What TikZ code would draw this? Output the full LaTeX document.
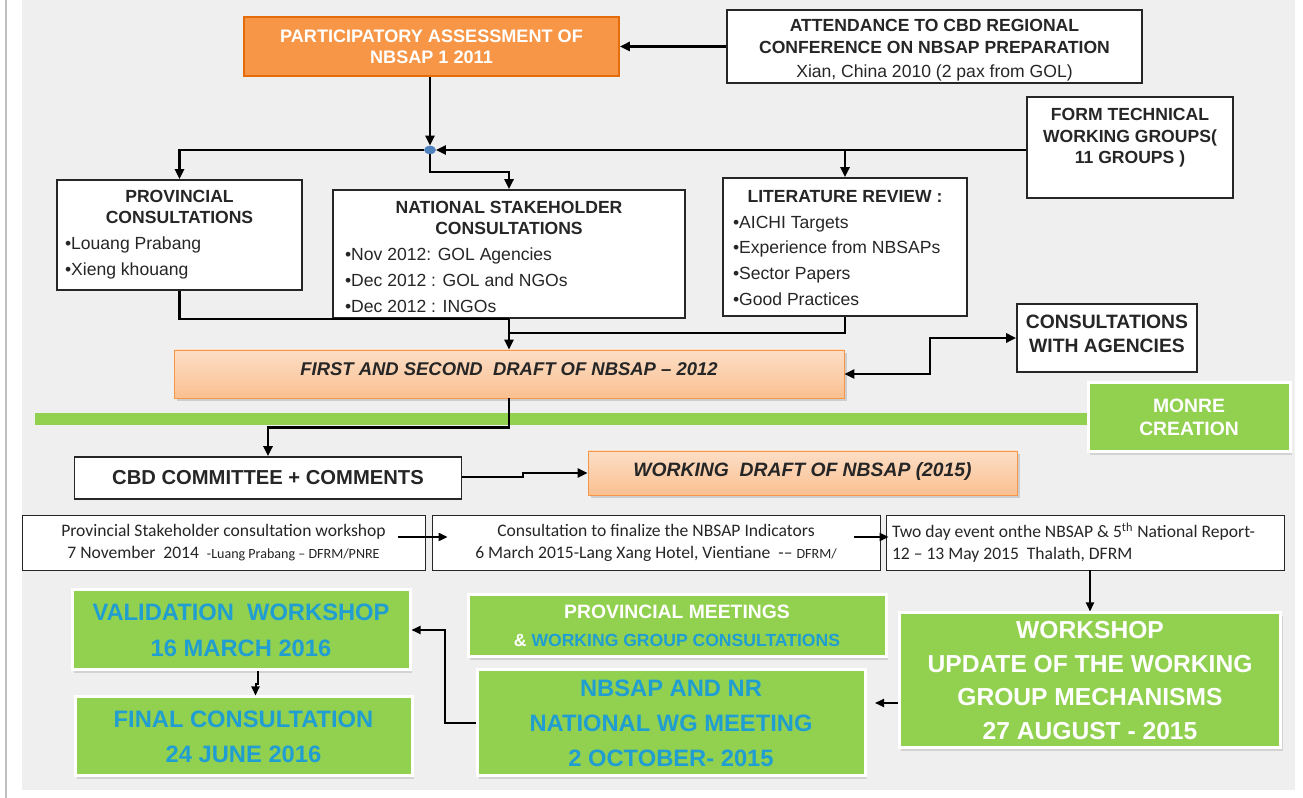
\documentclass[tikz,border=0pt]{standalone}
\usepackage{fontspec}
\setmainfont{Liberation Sans}
\newfontfamily\carlito{Carlito}
\usetikzlibrary{arrows.meta,shadows,shapes.geometric}

% Colours
\definecolor{r239g239b239}{rgb}{0.937255,0.937255,0.937255}%
\definecolor{r191g191b191}{rgb}{0.749020,0.749020,0.749020}%
\definecolor{r247g150b70}{rgb}{0.968627,0.588235,0.274510}%
\definecolor{r228g108b10}{rgb}{0.894118,0.423529,0.039216}%
\definecolor{r252g222b198}{rgb}{0.988235,0.870588,0.776471}%
\definecolor{r250g192b144}{rgb}{0.980392,0.752941,0.564706}%
\definecolor{r146g208b80}{rgb}{0.572549,0.815686,0.313725}%
\definecolor{r32g158b210}{rgb}{0.125490,0.619608,0.823529}%
\definecolor{r79g129b189}{rgb}{0.309804,0.505882,0.741176}%
\definecolor{r38g38b38}{rgb}{0.149020,0.149020,0.149020}%

\begin{document}
\begin{tikzpicture}[
    wbox/.style={draw=r38g38b38, fill=white, line width=0.032cm, inner sep=0pt, text=r38g38b38},
    obox/.style={draw=r228g108b10, fill=r247g150b70, line width=0.032cm, text=white, align=center,
      font=\bfseries\fontsize{10.3}{12}\selectfont},
    pbox/.style={draw=r247g150b70, top color=r252g222b198, bottom color=r250g192b144, line width=0.016cm,
      drop shadow={shadow xshift=0.05cm, shadow yshift=-0.06cm, opacity=0.3}, text=r38g38b38,
      font=\bfseries\itshape\fontsize{10.5}{12}\selectfont},
    gbox/.style={draw=white, fill=r146g208b80, line width=0.06cm, align=center,
      drop shadow={shadow xshift=0.04cm, shadow yshift=-0.06cm, opacity=0.25}},
    rbox/.style={draw=r38g38b38, fill=white, line width=0.016cm, inner sep=0.12cm, text=r38g38b38,
      font=\carlito\fontsize{10}{12.5}\selectfont},
    conn/.style={line width=0.05cm},
    arr/.style={line width=0.05cm, -{Triangle[length=0.2cm,width=0.18cm]}},
    arrs/.style={line width=0.05cm, {Triangle[length=0.2cm,width=0.18cm]}-{Triangle[length=0.2cm,width=0.18cm]}},
    thinarr/.style={line width=0.04cm, -{Triangle[length=0.18cm,width=0.16cm]}}
  ]
\useasboundingbox (0,0) rectangle (26.06,15.96);

% Filling background
\fill[r239g239b239] (0.44,0.16) rectangle (25.90,15.96);%
\draw[r191g191b191, line width=0.032cm] (0.12,0) -- (0.12,15.96);%

% Filling green bar
\fill[r146g208b80] (0.70,7.46) rectangle (21.80,7.70);%

% Drawing box participatory assessment
\node[obox, minimum width=7.50cm, minimum height=1.18cm] (assess) at (8.63,15.03)
  {PARTICIPATORY ASSESSMENT OF\\NBSAP 1 2011};

% Drawing box attendance
\node[wbox] (attend) at (18.69,15.03)
  {\parbox[c][1.46cm][t]{8.30cm}{\vspace*{5.5pt}\centering\fontsize{10}{12}\selectfont
   \textbf{ATTENDANCE TO CBD REGIONAL}\\\textbf{CONFERENCE ON NBSAP PREPARATION}\\[2pt]Xian, China 2010 (2 pax from GOL)}};

% Drawing box technical working groups
\node[wbox] (formtwg) at (22.60,13.01)
  {\parbox[c][2.02cm][t]{4.12cm}{\vspace*{6.5pt}\centering\bfseries\fontsize{10}{12.2}\selectfont
   FORM TECHNICAL\\WORKING GROUPS(\\11 GROUPS )}};

% Marking split point
\node[ellipse, fill=r79g129b189, draw=r79g129b189, inner sep=0pt, minimum width=0.22cm, minimum height=0.16cm] (dot) at (8.60,12.96) {};

% Drawing box provincial consultations
\node[wbox] (prov) at (3.59,11.26)
  {\parbox[c][2.20cm][t]{4.90cm}{\vspace*{6pt}{\centering\bfseries\fontsize{10}{12}\selectfont
   PROVINCIAL\\CONSULTATIONS\par}
   \fontsize{10}{14.7}\selectfont\leftskip=0.16cm
   \textbullet Louang Prabang\\\textbullet Xieng khouang}};

% Drawing box national stakeholder consultations
\node[wbox] (natl) at (10.18,10.88)
  {\parbox[c][2.56cm][t]{7.04cm}{\vspace*{6.4pt}{\centering\bfseries\fontsize{10}{12}\selectfont
   NATIONAL STAKEHOLDER\\CONSULTATIONS\par}
   \fontsize{10}{14.7}\selectfont\leftskip=0.24cm
   \textbullet Nov 2012: GOL Agencies\\\textbullet Dec 2012 : GOL and NGOs\\\textbullet Dec 2012 : INGOs}};

% Drawing box literature review
\node[wbox] (lit) at (16.90,11.02)
  {\parbox[c][2.76cm][t]{4.88cm}{\vspace*{7pt}{\centering\bfseries\fontsize{10}{12}\selectfont
   LITERATURE REVIEW :\par}
   \fontsize{10}{14.6}\selectfont\leftskip=0.20cm
   \textbullet AICHI Targets\\\textbullet Experience from NBSAPs\\\textbullet Sector Papers\\\textbullet Good Practices}};

% Drawing box first and second draft
\node[pbox, minimum width=13.40cm, minimum height=0.96cm] (draft1) at (10.18,8.48)
  {\raisebox{5.5pt}{FIRST AND SECOND\ \ DRAFT OF NBSAP – 2012}};

% Drawing box consultations with agencies
\node[wbox] (agency) at (22.14,9.20)
  {\parbox[c][1.36cm][t]{3.60cm}{\vspace*{6.5pt}\centering\bfseries\fontsize{11}{13.6}\selectfont
   CONSULTATIONS\\WITH AGENCIES}};

% Drawing box monre creation
\node[gbox, minimum width=4.04cm, minimum height=1.38cm, text=white,
  font=\bfseries\fontsize{11}{13}\selectfont] (monre) at (23.78,7.61) {MONRE\\CREATION};

% Drawing box cbd committee
\node[wbox, minimum width=7.74cm, minimum height=0.84cm,
  font=\bfseries\fontsize{11.5}{13}\selectfont] (cbd) at (5.36,6.40) {CBD COMMITTEE + COMMENTS};

% Drawing box working draft
\node[pbox, minimum width=8.58cm, minimum height=0.88cm,
  font=\bfseries\itshape\fontsize{11}{13}\selectfont] (draft2) at (16.05,6.50)
  {\raisebox{4pt}{WORKING\ \ DRAFT OF NBSAP (2015)}};

% Drawing row of events
\node[rbox, minimum width=8.06cm, minimum height=1.10cm] (rowA) at (4.47,5.11)
  {\raisebox{-3pt}{\parbox{7.82cm}{\centering Provincial Stakeholder consultation workshop\\7 November\ \ 2014\ \ {\fontsize{8}{9}\selectfont -Luang Prabang – DFRM/PNRE}}}};
\node[rbox, minimum width=8.96cm, minimum height=1.10cm] (rowB) at (13.12,5.11)
  {\raisebox{-3pt}{\parbox{8.72cm}{\centering Consultation to finalize the NBSAP Indicators\\6 March 2015-Lang Xang Hotel, Vientiane\ \ -– {\fontsize{8}{9}\selectfont DFRM/}}}};
\node[rbox, minimum width=7.96cm, minimum height=1.10cm] (rowC) at (21.70,5.11)
  {\raisebox{-3pt}{\parbox{7.72cm}{\raggedright Two day event onthe NBSAP \& 5\textsuperscript{th} National Report-\\12 – 13 May 2015\ \ Thalath, DFRM}}};

% Drawing green boxes
\node[gbox, minimum width=6.76cm, minimum height=1.60cm, text=r32g158b210,
  font=\bfseries\fontsize{13.5}{20.4}\selectfont] (valid) at (4.82,3.36) {VALIDATION\ \ WORKSHOP\\16 MARCH 2016};
\node[gbox, minimum width=6.74cm, minimum height=1.58cm, text=r32g158b210,
  font=\bfseries\fontsize{13.5}{20}\selectfont] (final) at (4.87,1.23) {FINAL CONSULTATION\\24 JUNE 2016};
\node[gbox, minimum width=8.36cm, minimum height=1.24cm, text=white,
  font=\bfseries\fontsize{11}{16}\selectfont] (provmeet) at (13.54,3.44)
  {PROVINCIAL MEETINGS\\{\fontsize{10}{16}\selectfont \& \textcolor{r32g158b210}{WORKING GROUP CONSULTATIONS}}};
\node[gbox, minimum width=7.76cm, minimum height=2.12cm, text=r32g158b210,
  font=\bfseries\fontsize{13.5}{20}\selectfont] (nbsapnr) at (13.42,1.50)
  {NBSAP AND NR\\NATIONAL WG MEETING\\2 OCTOBER- 2015};
\node[gbox, minimum width=7.52cm, minimum height=2.70cm, text=white,
  font=\bfseries\fontsize{14}{19.2}\selectfont] (wshop) at (21.80,2.35)
  {\raisebox{-4pt}{\parbox{7.4cm}{\centering WORKSHOP\\UPDATE OF THE WORKING\\GROUP MECHANISMS\\27 AUGUST - 2015}}};

% Drawing line attend assess
\draw[arr] (attend.west |- assess.east) -- (assess.east);%
% Drawing line assess dot
\draw[arr] (dot |- assess.south) -- (dot.north);%
% Drawing line formtwg dot
\draw[arr] (dot -| formtwg.west) -- (dot.east);%
\draw[arr] (dot -| lit.north) -- (lit.north);%
% Drawing line dot prov
\draw[arr] (dot.west) -| (prov.north);%
% Drawing line dot natl
\coordinate (nsplit) at (10.18,12.52);
\draw[arr] (dot.south) |- (nsplit) -- (natl.north);%

% Drawing lines into first draft
\coordinate (jprov) at (10.18,9.58);
\coordinate (jlit) at (10.18,9.30);
\draw[conn] (prov.south) |- (jprov);%
\draw[conn] (lit.south) |- (jlit);%
\draw[arr] (natl.south) -- (draft1.north);%

% Drawing line draft1 agency
\coordinate (ajog) at (18.60,8.48);
\draw[arrs] (draft1.east) -- (ajog) |- (agency.west);%

% Drawing line draft1 cbd
\draw[arr] (draft1.south) -- ++(0,-0.58) -| (cbd.north);%

% Drawing line cbd draft2
\coordinate (wjog) at (10.46,6.42);
\draw[arr] (cbd.east |- wjog) -- (wjog) |- (draft2.west);%

% Drawing lines along row
\draw[thinarr] ([xshift=-0.54cm,yshift=0.11cm]rowA.east) -- ([xshift=0.32cm,yshift=0.11cm]rowB.west);%
\draw[thinarr] ([xshift=-0.52cm,yshift=0.11cm]rowB.east) -- ([xshift=0.06cm,yshift=0.11cm]rowC.west);%
\draw[thinarr] (wshop.north |- rowC.south) -- (wshop.north);%

% Drawing line wshop nbsapnr
\coordinate (nwarr) at (17.50,1.90);
\draw[thinarr] (wshop.west |- nwarr) -- (nwarr);%

% Drawing line nbsapnr valid
\coordinate (vjog) at (8.90,3.36);
\draw[thinarr] (nbsapnr.west) -| (vjog) -- (valid.east);%

% Drawing line valid final
\draw[thinarr] ([xshift=0.34cm]valid.south) -- ++(0,-0.26) -| ([xshift=0.24cm]final.north);%
\end{tikzpicture}
\end{document}
